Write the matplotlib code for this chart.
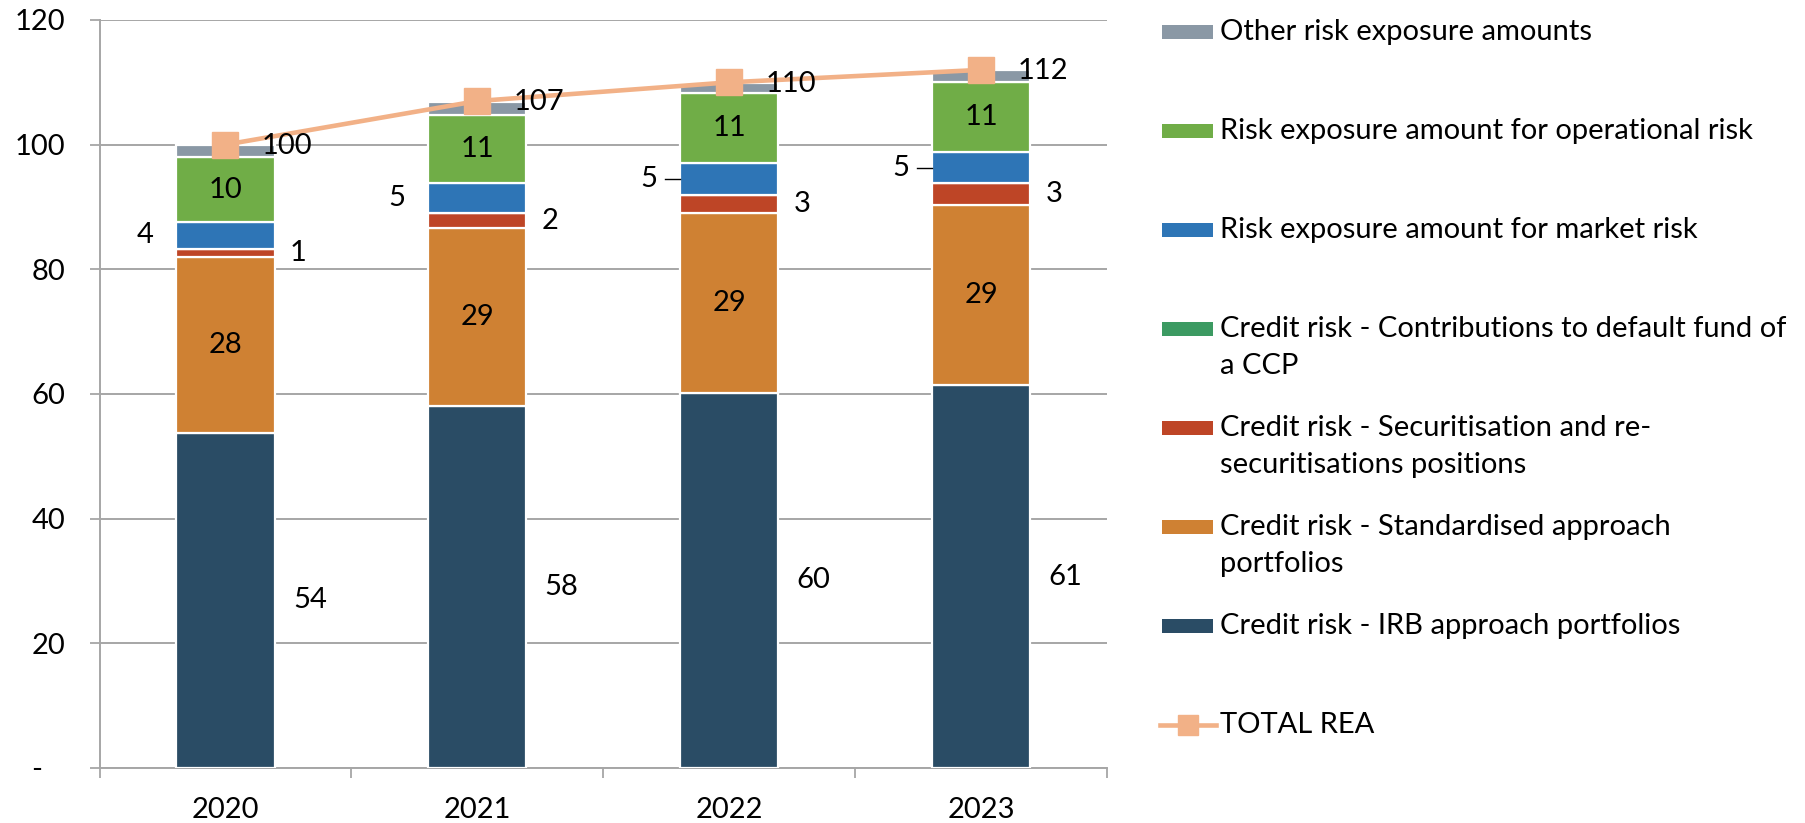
import matplotlib
matplotlib.use("Agg")
import matplotlib.pyplot as plt
from matplotlib.patches import Rectangle
from matplotlib.lines import Line2D
import numpy as np

plt.rcParams['font.family'] = ['Lato', 'DejaVu Sans']

# ---------------- data ----------------
years = ["2020", "2021", "2022", "2023"]
irb = [53.8, 58.0, 60.2, 61.4]
standardised = [28.2, 28.6, 28.8, 29.0]
securitisation = [1.3, 2.4, 3.0, 3.4]
ccp = [0.0, 0.0, 0.0, 0.0]
market = [4.3, 4.9, 5.1, 5.0]
operational = [10.4, 10.9, 11.2, 11.3]
other = [1.9, 2.0, 1.6, 1.8]
total_rea = [100, 107, 110, 112]

series_names = [
    "Credit risk - IRB approach portfolios",
    "Credit risk - Standardised approach\nportfolios",
    "Credit risk - Securitisation and re-\nsecuritisations positions",
    "Credit risk - Contributions to default fund of\na CCP",
    "Risk exposure amount for market risk",
    "Risk exposure amount for operational risk",
    "Other risk exposure amounts",
]
total_name = "TOTAL REA"
ytick_values = [0, 20, 40, 60, 80, 100, 120]
ytick_labels = ["-   ", "20", "40", "60", "80", "100", "120"]

# ---------------- styles ----------------
colors = ["#2A4C65", "#CF8133", "#BE4526", "#3C9A62", "#2E75B6", "#70AD47", "#8A98A5"]
label_modes = ["right", "center", "right2", None, "left", "center", None]
total_color = "#F2B187"
grid_color = "#A6A6A6"
FS = 21

series_values = [irb, standardised, securitisation, ccp, market, operational, other]

W, H = 1805, 823
fig = plt.figure(figsize=(W / 100, H / 100), dpi=100)
ax = fig.add_axes([99.5 / W, 1 - 768 / H, (1107 - 99.5) / W, (768 - 20) / H])

x = np.arange(len(years))
bar_w = 0.39
bottom = np.zeros(len(years))
for vals, col, mode in zip(series_values, colors, label_modes):
    vals = np.asarray(vals, dtype=float)
    ax.bar(x, vals, width=bar_w, bottom=bottom, color=col, edgecolor="white",
           linewidth=1.6, zorder=3)
    mids = bottom + vals / 2
    for i in range(len(years)):
        txt = f"{vals[i]:.0f}"
        if mode == "center":
            ax.text(x[i], mids[i], txt, ha="center", va="center", fontsize=FS, zorder=6)
        elif mode == "right":
            ax.text(x[i] + 0.335, mids[i], txt, ha="center", va="center", fontsize=FS, zorder=6)
        elif mode == "right2":
            ax.text(x[i] + 0.29, mids[i], txt, ha="center", va="center", fontsize=FS, zorder=6)
        elif mode == "left":
            lx = x[i] - 0.32
            ax.text(lx, mids[i], txt, ha="center", va="center", fontsize=FS, zorder=6)
            if i >= 2:
                ax.plot([lx + 0.065, x[i] - bar_w / 2], [mids[i], mids[i]],
                        color="black", lw=1, zorder=6)
    bottom = bottom + vals

# total line
ax.plot(x, total_rea, color=total_color, lw=3.3, marker="s", markersize=19,
        markerfacecolor=total_color, markeredgecolor=total_color, zorder=5)
for i, v in enumerate(total_rea):
    ax.annotate(f"{v}", (x[i], v), xytext=(26, -1), textcoords="offset points",
                ha="left", va="center", fontsize=FS, zorder=7)

# axes styling
ax.set_xlim(-0.5, len(years) - 0.5)
ax.set_ylim(0, 120)
ax.set_yticks(ytick_values)
ax.set_yticklabels(ytick_labels)
ax.set_xticks(x)
ax.set_xticklabels(years)
ax.set_xticks(np.arange(-0.5, len(years), 1.0), minor=True)
ax.tick_params(axis="x", which="major", length=0, pad=21, labelsize=FS)
ax.tick_params(axis="x", which="minor", length=7.5, width=1.3, color=grid_color, direction="out")
ax.tick_params(axis="y", length=7.5, width=1.3, color=grid_color, pad=17, labelsize=FS)
ax.yaxis.grid(True, color=grid_color, lw=1.4, zorder=0)
ax.set_axisbelow(True)
for s in ["top", "right"]:
    ax.spines[s].set_visible(False)
for s in ["left", "bottom"]:
    ax.spines[s].set_color(grid_color)
    ax.spines[s].set_linewidth(1.4)

# manual legend (Excel-like, patch aligned with first line)
leg_x0, leg_x1 = 1162, 1213
text_x = 1220
row0, row_step, line_step = 32, 99, 37
entries = list(zip(series_names, colors))[::-1]
for k, (name, col) in enumerate(entries):
    yc = row0 + k * row_step
    fig.patches.append(Rectangle((leg_x0 / W, 1 - (yc + 7) / H), (leg_x1 - leg_x0) / W, 14 / H,
                                 transform=fig.transFigure, facecolor=col, edgecolor="none"))
    for j, line in enumerate(name.split("\n")):
        fig.text(text_x / W, 1 - (yc + j * line_step) / H, line, ha="left", va="center",
                 fontsize=FS)
yc = row0 + len(entries) * row_step
fig.lines.append(Line2D([1160 / W, 1216 / W], [1 - yc / H, 1 - yc / H], transform=fig.transFigure,
                        color=total_color, lw=3.3))
fig.lines.append(Line2D([1188 / W], [1 - yc / H], transform=fig.transFigure,
                        color=total_color, lw=0, marker="s", markersize=15))
fig.text(text_x / W, 1 - yc / H, total_name, ha="left", va="center", fontsize=FS)

fig.savefig("out.png", dpi=100)
